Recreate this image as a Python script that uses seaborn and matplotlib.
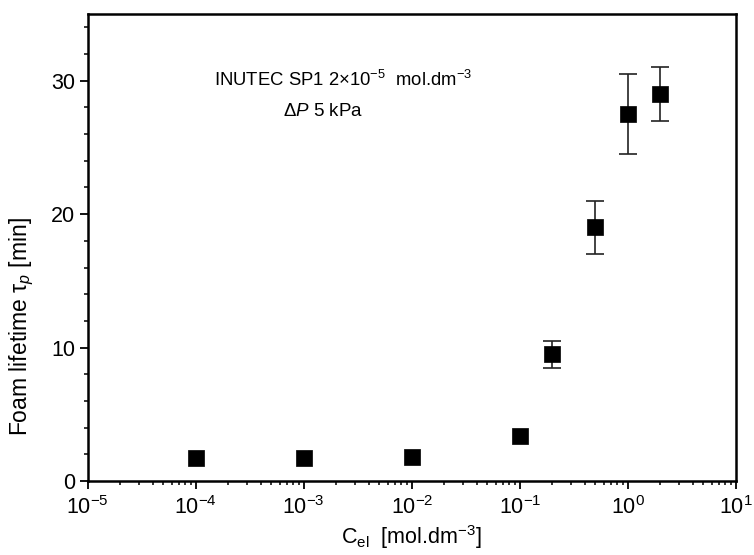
import numpy as np
import pandas as pd
import matplotlib
matplotlib.use("Agg")
import matplotlib.pyplot as plt
import matplotlib.ticker as mticker
import seaborn as sns

conc = [1e-4, 1e-3, 1e-2, 1e-1, 0.2, 0.5, 1.0, 2.0]
lifetime = [1.7, 1.7, 1.8, 3.4, 9.5, 19.0, 27.5, 29.0]
err = [0, 0, 0, 0, 1.0, 2.0, 3.0, 2.0]
xticks = [1e-5, 1e-4, 1e-3, 1e-2, 1e-1, 1e0, 1e1]
xticklabels = [r"$\mathregular{10^{-5}}$", r"$\mathregular{10^{-4}}$", r"$\mathregular{10^{-3}}$",
               r"$\mathregular{10^{-2}}$", r"$\mathregular{10^{-1}}$", r"$\mathregular{10^{0}}$",
               r"$\mathregular{10^{1}}$"]
yticks = [0, 10, 20, 30]

df = pd.DataFrame({"c": conc, "t": lifetime, "e": err})

sns.set_theme(style="ticks")
plt.rcParams["font.family"] = ["Liberation Sans", "DejaVu Sans"]
plt.rcParams["mathtext.fontset"] = "custom"
plt.rcParams["mathtext.rm"] = "Liberation Sans"
plt.rcParams["mathtext.it"] = "Liberation Sans:italic"
plt.rcParams["text.color"] = "black"
plt.rcParams["axes.labelcolor"] = "black"
plt.rcParams["xtick.color"] = "black"
plt.rcParams["ytick.color"] = "black"

FS = 15.5

fig = plt.figure(figsize=(7.54, 5.55), dpi=100)
ax = fig.add_axes([0.1163, 0.1333, 0.976 - 0.1163, 0.9748 - 0.1333])

eb = df[df["e"] > 0]
ax.errorbar(eb["c"], eb["t"], yerr=eb["e"], fmt="none", ecolor="#222222",
            elinewidth=1.2, capsize=6.5, capthick=1.2, zorder=2)
sns.scatterplot(data=df, x="c", y="t", marker="s", s=140, color="black",
                edgecolor="black", linewidth=0.5, ax=ax, zorder=3, legend=False)

ax.set_xscale("log")
ax.set_xlim(1e-5, 1e1)
ax.set_ylim(0, 35)
ax.set_xticks(xticks)
ax.set_xticklabels(xticklabels)
ax.xaxis.set_minor_locator(mticker.LogLocator(base=10, subs=np.arange(2, 10), numticks=100))
ax.xaxis.set_minor_formatter(mticker.NullFormatter())
ax.set_yticks(yticks)
ax.yaxis.set_minor_locator(mticker.MultipleLocator(2))

ax.tick_params(axis="both", which="major", direction="out", length=6, width=1.3,
               labelsize=FS, colors="black", pad=3)
ax.tick_params(axis="x", which="major", pad=5)
ax.tick_params(axis="both", which="minor", direction="out", length=3, width=1.1)
for sp in ax.spines.values():
    sp.set_visible(True)
    sp.set_linewidth(1.8)
    sp.set_color("black")

ax.set_xlabel(r"C$_{\mathregular{el}}$  [mol.dm$^{\mathregular{-3}}$]", fontsize=FS)
ax.xaxis.set_label_coords(0.5, -0.09)
ax.set_ylabel(r"Foam lifetime τ$_{\mathit{p}}$ [min]", fontsize=16.5)
ax.yaxis.set_label_coords(-0.08, 0.33)

ax.text(0.394, 0.859, r"INUTEC SP1 2×10$^{\mathregular{-5}}$  mol.dm$^{\mathregular{-3}}$",
        transform=ax.transAxes, ha="center", va="center", fontsize=13.3)
ax.text(0.363, 0.792, r"$\Delta\mathit{P}$ 5 kPa", transform=ax.transAxes,
        ha="center", va="center", fontsize=13.5)

fig.savefig("out.png", dpi=100)
